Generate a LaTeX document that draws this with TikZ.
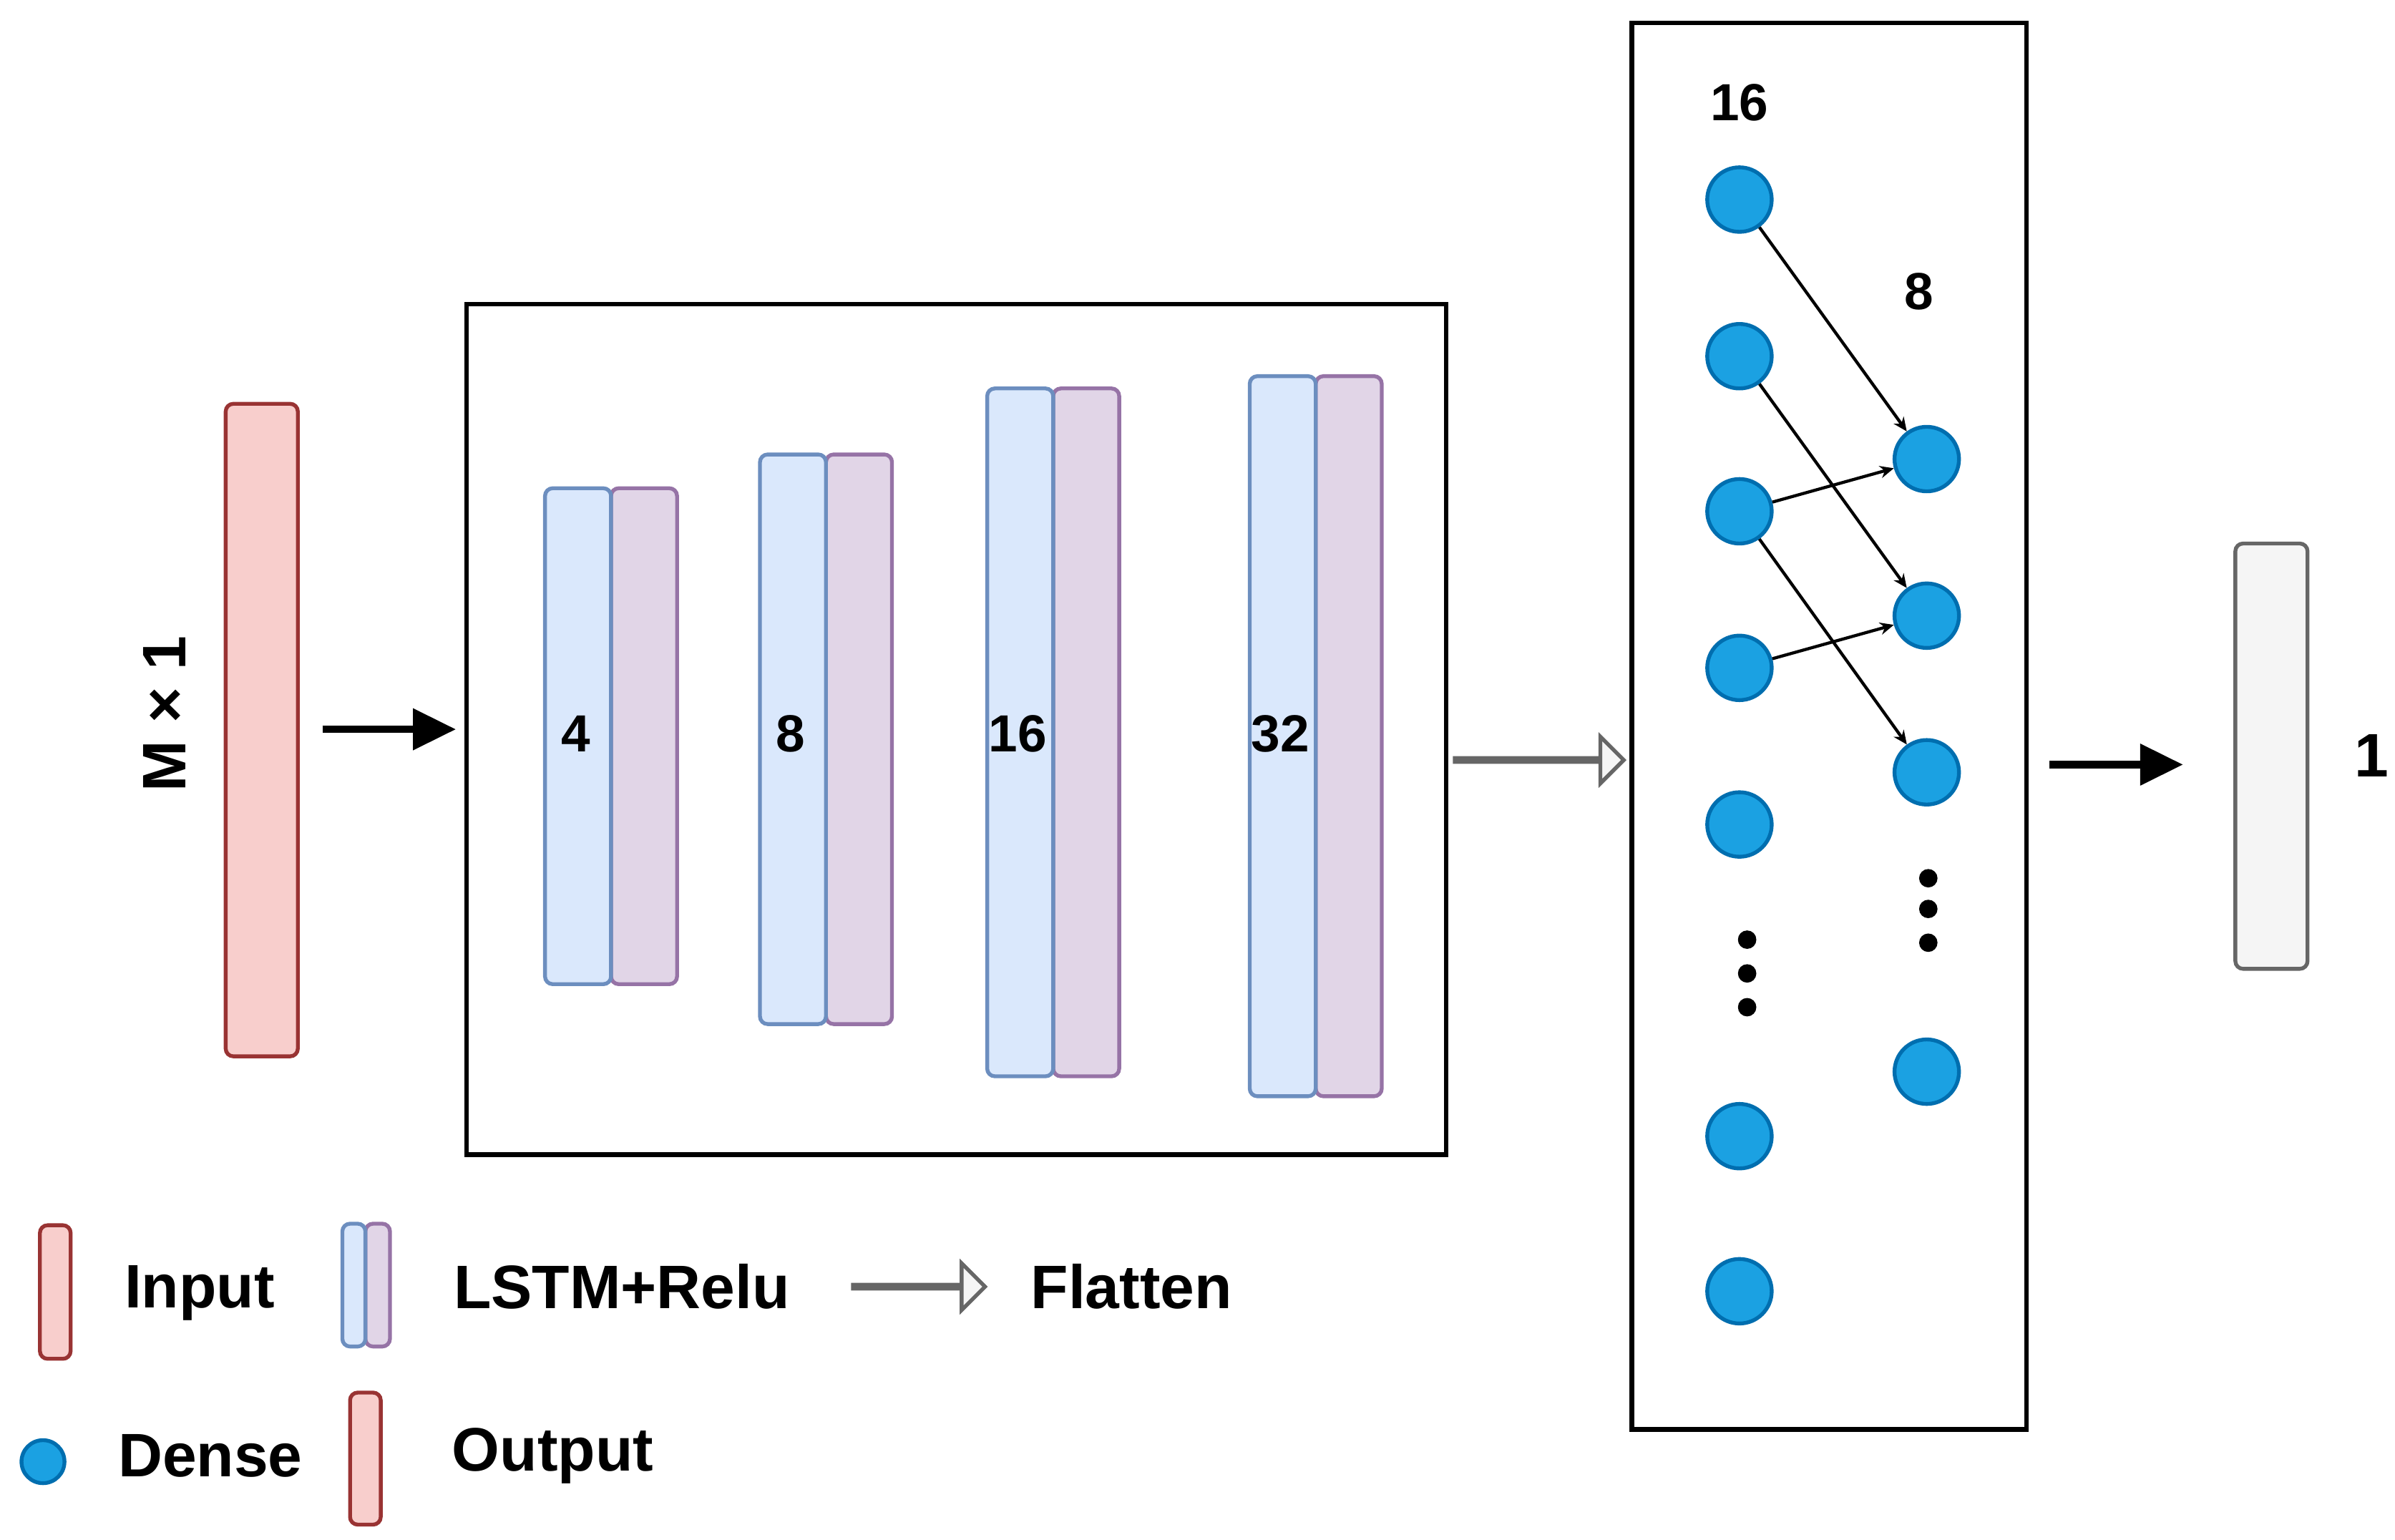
\documentclass[tikz,border=0pt]{standalone}
\usepackage{fontspec}
\setmainfont{Liberation Sans}
\usetikzlibrary{arrows.meta,shapes.arrows}
\begin{document}
\begin{tikzpicture}[x=1pt,y=-1pt,
 bar/.style={draw=#1,line width=2.5pt,rounded corners=5pt},
 inbar/.style={bar=red!50!black!80,fill=inpink},
 bl/.style={bar=lblue,fill=fblue},
 pu/.style={bar=lpur,fill=fpur},
 dn/.style={circle,draw=dnb,fill=dnf,line width=2.5pt,minimum size=42pt,inner sep=0pt},
 ar/.style={-{Stealth[length=9pt,width=8pt]},line width=2pt},
 bar2/.style={-{Triangle[length=28pt,width=26pt]},line width=5pt},
 lab/.style={font=\fontsize{40}{48}\selectfont\bfseries},
 num/.style={font=\fontsize{34}{40}\selectfont\bfseries},
 flat/.style={single arrow,draw=gray!80!black,fill=gray!8,line width=2.5pt,single arrow head extend=14pt,minimum height=#1,minimum width=18pt,inner sep=0pt,single arrow head indent=0pt}
]
\definecolor{inpink}{HTML}{F8CECC}\definecolor{fblue}{HTML}{DAE8FC}\definecolor{lblue}{HTML}{6C8EBF}
\definecolor{fpur}{HTML}{E1D5E7}\definecolor{lpur}{HTML}{9673A6}\definecolor{dnf}{HTML}{1BA1E2}\definecolor{dnb}{HTML}{006EAF}
\colorlet{inred}{red!50!black!80}
\useasboundingbox (0,0) rectangle (1560,1003);
% input
\draw[bar=inred,fill=inpink] (147,263) rectangle (194,688);
\node[lab,rotate=90] (m) at (107,465) {M × 1};
\coordinate (a1) at (210,475); \coordinate (a2) at (297,475);
\draw[bar2] (a1) -- (a2);
% LSTM box
\draw[line width=3pt] (304,198) rectangle (942,752);
\foreach \xa/\ya/\yb/\t in {355/318/641/4,495/296/667/8,643/253/701/16,814/245/714/32}{
 \draw[pu] (\xa+43,\ya) rectangle (\xa+86,\yb);
 \draw[bl] (\xa,\ya) rectangle (\xa+43,\yb);
 \node[num] at (\xa+20,478) {\t};
}
\node[flat=110pt] (fl) at (1002,495) {};
% dense box
\draw[line width=3pt] (1063,15) rectangle (1320,931);
\foreach \i/\y in {1/130,2/232,3/333,4/435,5/537,6/740,7/841} \node[dn] (l\i) at (1133,\y) {};
\foreach \i/\y in {1/299,2/401,3/503,4/698} \node[dn] (r\i) at (1255,\y) {};
\foreach \y in {612,634,656} \fill (1138,\y) circle (6pt);
\foreach \y in {572,592,614} \fill (1256,\y) circle (6pt);
\node[num] at (1133,67) {16};
\node[num] at (1250,190) {8};
\draw[ar] (l1) -- (r1); \draw[ar] (l2) -- (r2); \draw[ar] (l3) -- (r1);
\draw[ar] (l3) -- (r3); \draw[ar] (l4) -- (r2);
\coordinate (b1) at (1335,498); \coordinate (b2) at (1422,498);
\draw[bar2] (b1) -- (b2);
\draw[bar=gray!80!black,fill=gray!8] (1456,354) rectangle (1503,631);
\node[lab] at (1545,492) {1};
% legend
\draw[bar=inred,fill=inpink] (26,798) rectangle (46,885);
\node[lab] at (130,842) {Input};
\draw[pu] (238,797) rectangle (254,877);
\draw[bl] (223,797) rectangle (238,877);
\node[lab] at (405,838) {LSTM+Relu};
\node[flat=86pt] (fl2) at (598,838) {};
\node[lab] at (737,838) {Flatten};
\node[dn,minimum size=28pt] (ld) at (28,952) {};
\node[lab] at (137,948) {Dense};
\draw[bar=inred,fill=inpink] (228,907) rectangle (248,993);
\node[lab] at (360,948) {Output};
\end{tikzpicture}
\end{document}
